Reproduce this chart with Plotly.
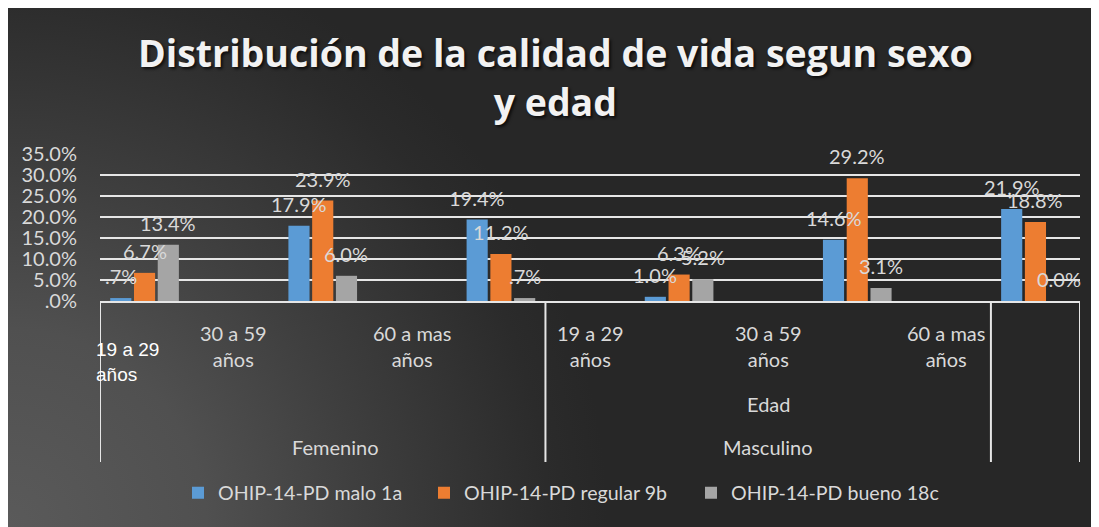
import base64
import plotly.graph_objects as go

# ---------------- data ----------------
categories = [
    "Femenino 19 a 29 años", "hueco 1", "Femenino 30 a 59 años", "hueco 2",
    "Femenino 60 a mas años", "hueco 3", "Masculino 19 a 29 años", "hueco 4",
    "Masculino 30 a 59 años", "hueco 5", "Masculino 60 a mas años",
]
malo = [0.7, None, 17.9, None, 19.4, None, 1.0, None, 14.6, None, 21.9]
regular = [6.7, None, 23.9, None, 11.2, None, 6.3, None, 29.2, None, 18.8]
bueno = [13.4, None, 6.0, None, 0.7, None, 5.2, None, 3.1, None, 0.0]
series_names = ["OHIP-14-PD malo 1a", "OHIP-14-PD regular 9b", "OHIP-14-PD bueno 18c"]
series_values = [malo, regular, bueno]
series_colors = ["#5b9bd5", "#ed7d31", "#a5a5a5"]

y_ticks = [0, 5, 10, 15, 20, 25, 30, 35]
y_tick_labels = [".0%", "5.0%", "10.0%", "15.0%", "20.0%", "25.0%", "30.0%", "35.0%"]

age_labels = ["30 a 59<br>años", "60 a mas<br>años",
              "19 a 29<br>años", "30 a 59<br>años", "60 a mas<br>años"]
age_label_slots = [1, 3, 5, 7, 9]
first_age_label = "19 a 29<br>años"
axis_title = "Edad"
sex_labels = ["Femenino", "Masculino"]
sex_label_slots = [2.14, 7]
group_edges = [-0.5, 4.5, 9.5, 10.5]

title = "Distribución de la calidad de vida segun sexo<br>y edad"

# ---------------- layout constants ----------------
OFF = 8                      # page body margin
W, H = 1099 - OFF, 527 - OFF
PLOT_L, PLOT_R, PLOT_T, PLOT_B = 100, 1080, 154, 301   # page pixels
ML, MR = PLOT_L - OFF, W - (PLOT_R - OFF)
MT, MB = PLOT_T - OFF, H - (PLOT_B - OFF)
PW, PH = W - ML - MR, H - MT - MB
BARGAP = 0.2
TXT = "#d9d9d9"
FONT = "Lato"


def px_x(px):            # page pixel -> paper x
    return (px - PLOT_L) / PW


def px_y(py):            # page pixel -> paper y
    return (PLOT_B - py) / PH


def fmt(v):
    s = f"{v:.1f}%"
    if 0 < v < 1:
        s = s[1:]
    return s


legend_ids = ["legend", "legend2", "legend3"]
legend_square_px = [194, 440, 707]

fig = go.Figure()
for name, vals, col, lg in zip(series_names, series_values, series_colors, legend_ids):
    fig.add_trace(go.Bar(x=categories, y=vals, name=name, marker_color=col,
                         marker_line_width=0, legend=lg))

# data labels (Excel style, floating above bars)
slot = (1 - BARGAP) / len(series_values)
annotations = []
for k, vals in enumerate(series_values):
    for i, v in enumerate(vals):
        if v is None:
            continue
        annotations.append(dict(
            x=i + (k - (len(series_values) - 1) / 2) * slot, y=v, xref="x", yref="y",
            text=fmt(v), showarrow=False, yshift=22, yanchor="middle",
            font=dict(family=FONT, size=20, color=TXT)))

# category labels on the multi-level axis
for t, s in zip(age_labels, age_label_slots):
    annotations.append(dict(x=s, y=px_y(346), xref="x", yref="paper", text=t,
                            showarrow=False, yanchor="middle",
                            font=dict(family=FONT, size=20, color=TXT)))
annotations.append(dict(x=px_x(94), y=px_y(362), xref="paper", yref="paper",
                        text=first_age_label, showarrow=False, xanchor="left",
                        align="left", yanchor="middle",
                        font=dict(family="Liberation Sans", size=19, color="#ffffff")))
annotations.append(dict(x=7, y=px_y(404), xref="x", yref="paper", text=axis_title,
                        showarrow=False, yanchor="middle",
                        font=dict(family=FONT, size=20, color=TXT)))
for t, s in zip(sex_labels, sex_label_slots):
    annotations.append(dict(x=s, y=px_y(447), xref="x", yref="paper", text=t,
                            showarrow=False, yanchor="middle",
                            font=dict(family=FONT, size=20, color=TXT)))

shapes = [dict(type="line", xref="x", yref="paper", x0=e, x1=e, y0=0, y1=px_y(462),
               line=dict(color="#e6e6e6", width=2)) for e in group_edges]

# background gradient (radial from bottom-left), as inline svg
svg = (
    f'<svg xmlns="http://www.w3.org/2000/svg" width="{W}" height="{H}" '
    f'viewBox="0 0 {W} {H}" preserveAspectRatio="none"><defs>'
    f'<radialGradient id="g" gradientUnits="userSpaceOnUse" cx="0" cy="{H}" r="600">'
    '<stop offset="0" stop-color="#5a5a5a"/><stop offset="0.33" stop-color="#505050"/>'
    '<stop offset="0.58" stop-color="#3f3f3f"/><stop offset="0.9" stop-color="#2b2b2b"/>'
    '<stop offset="1" stop-color="#272727"/></radialGradient></defs>'
    f'<rect width="{W}" height="{H}" fill="url(#g)"/></svg>'
)
src = "data:image/svg+xml;base64," + base64.b64encode(svg.encode()).decode()

legend_style = dict(orientation="h", yanchor="middle", y=px_y(493), xanchor="left",
                    font=dict(family=FONT, size=19.6, color=TXT),
                    bgcolor="rgba(0,0,0,0)", itemclick=False, itemdoubleclick=False)
legends = {lg: dict(legend_style, x=px_x(sq - 16)) for lg, sq in zip(legend_ids, legend_square_px)}

# title as centred two-line annotation (line centres at page y 55 and 100)
annotations.append(dict(text=title, xref="paper", yref="paper", x=px_x(555), y=px_y(77),
                        xanchor="center", yanchor="middle", showarrow=False,
                        align="center",
                        font=dict(family="Open Sans", size=37.5, color="#f2f2f2",
                                  weight="bold", shadow="2px 2px 3px rgba(0,0,0,0.7)")))

fig.update_layout(
    width=W, height=H, autosize=False,
    margin=dict(l=ML, r=MR, t=MT, b=MB, pad=0),
    paper_bgcolor="#272727", plot_bgcolor="rgba(0,0,0,0)",
    barmode="group", bargap=BARGAP, bargroupgap=0.11,
    xaxis=dict(type="category", showticklabels=False, showgrid=False, zeroline=False,
               showline=True, linecolor="#e6e6e6", linewidth=2, ticks="",
               range=[-0.5, len(categories) - 0.5], fixedrange=True),
    yaxis=dict(range=[0, 35], tickvals=y_ticks, ticktext=y_tick_labels,
               showgrid=True, gridcolor="#e6e6e6", gridwidth=2, zeroline=False,
               showline=False, ticks="", ticklabelstandoff=22,
               tickfont=dict(family=FONT, size=20, color=TXT), fixedrange=True),
    annotations=annotations,
    shapes=shapes,
    images=[dict(source=src, xref="paper", yref="paper", x=-ML / PW, y=1 + MT / PH,
                 sizex=W / PW, sizey=H / PH, xanchor="left", yanchor="top",
                 sizing="stretch", layer="below")],
    showlegend=True,
    **legends,
)

fig.write_html("out.html")
